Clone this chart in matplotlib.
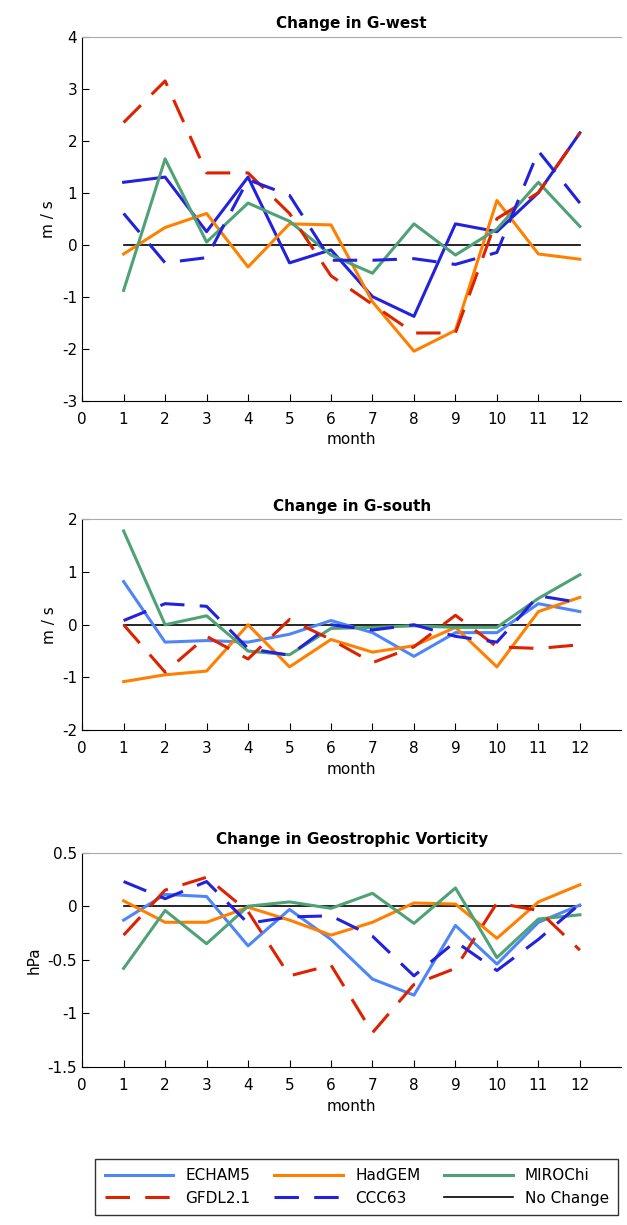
import numpy as np
import matplotlib
matplotlib.use("Agg")
import matplotlib.pyplot as plt

months = list(range(1, 13))

# Change in G-west (m/s)
gw_echam5 = [1.2, 1.3, 0.25, 1.3, -0.35, -0.1, -1.0, -1.38, 0.4, 0.25, 1.0, 2.15]
gw_hadgem = [-0.18, 0.33, 0.6, -0.43, 0.4, 0.38, -1.1, -2.05, -1.65, 0.85, -0.18, -0.28]
gw_mirochi = [-0.88, 1.65, 0.05, 0.8, 0.45, -0.2, -0.55, 0.4, -0.2, 0.3, 1.2, 0.35]
gw_gfdl = [2.35, 3.15, 1.38, 1.38, 0.6, -0.6, -1.15, -1.7, -1.7, 0.5, 1.0, 2.15]
gw_ccc63 = [0.6, -0.35, -0.25, 1.25, 0.95, -0.3, -0.3, -0.27, -0.38, -0.15, 1.8, 0.8]

# Change in G-south (m/s)
gs_echam5 = [0.82, -0.33, -0.3, -0.33, -0.18, 0.08, -0.15, -0.6, -0.15, -0.15, 0.4, 0.25]
gs_hadgem = [-1.08, -0.95, -0.88, 0.0, -0.8, -0.28, -0.52, -0.4, -0.05, -0.8, 0.25, 0.52]
gs_mirochi = [1.78, 0.0, 0.17, -0.5, -0.57, -0.07, -0.05, -0.02, -0.05, -0.05, 0.5, 0.95]
gs_gfdl = [0.0, -0.9, -0.22, -0.65, 0.1, -0.28, -0.72, -0.42, 0.18, -0.42, -0.45, -0.38]
gs_ccc63 = [0.08, 0.4, 0.35, -0.45, -0.58, 0.0, -0.1, 0.0, -0.22, -0.33, 0.55, 0.42]

# Change in geostrophic vorticity (hPa)
gv_echam5 = [-0.13, 0.11, 0.09, -0.37, -0.03, -0.31, -0.68, -0.83, -0.18, -0.54, -0.15, 0.01]
gv_hadgem = [0.05, -0.15, -0.15, -0.01, -0.13, -0.27, -0.15, 0.03, 0.02, -0.3, 0.04, 0.2]
gv_mirochi = [-0.58, -0.04, -0.35, 0.0, 0.04, -0.02, 0.12, -0.16, 0.17, -0.48, -0.12, -0.08]
gv_gfdl = [-0.27, 0.15, 0.27, -0.05, -0.65, -0.55, -1.18, -0.73, -0.58, 0.03, -0.04, -0.41]
gv_ccc63 = [0.23, 0.07, 0.23, -0.16, -0.1, -0.09, -0.28, -0.65, -0.33, -0.6, -0.31, 0.02]

c_echam = "#4f86f7"
c_had = "#ff8000"
c_miro = "#4fa176"
c_gfdl = "#dd2200"
c_ccc = "#2222dd"

plt.rcParams['font.family'] = ['DejaVu Sans']
fig = plt.figure(figsize=(6.27, 12.25), dpi=100)

panels = [
    ("Change in G-west", [0.131, 0.673, 0.86, 0.297], (-3, 4), range(-3, 5), "m / s",
     gw_echam5, gw_hadgem, gw_mirochi, gw_gfdl, gw_ccc63, c_ccc),
    ("Change in G-south", [0.131, 0.404, 0.86, 0.172], (-2, 2), range(-2, 3), "m / s",
     gs_echam5, gs_hadgem, gs_mirochi, gs_gfdl, gs_ccc63, c_echam),
    ("Change in Geostrophic Vorticity", [0.131, 0.129, 0.86, 0.175], (-1.5, 0.5),
     [-1.5, -1, -0.5, 0, 0.5], "hPa",
     gv_echam5, gv_hadgem, gv_mirochi, gv_gfdl, gv_ccc63, c_echam),
]

handles = None
for title, pos, ylim, yt, ylab, e, h, m, g, c, ec in panels:
    ax = fig.add_axes(pos)
    l0, = ax.plot([1, 12], [0, 0], color="black", lw=1.2)
    l1, = ax.plot(months, e, color=ec, lw=2.2)
    l2, = ax.plot(months, h, color=c_had, lw=2.2)
    l3, = ax.plot(months, m, color=c_miro, lw=2.2)
    l4, = ax.plot(months, g, color=c_gfdl, lw=2.2, dashes=(8, 5))
    l5, = ax.plot(months, c, color=c_ccc, lw=2.2, dashes=(8, 5))
    if handles is None:
        handles = [l1, l2, l3, l4, l5, l0]
    ax.set_xlim(0, 13)
    ax.set_xticks(range(0, 13))
    ax.set_ylim(*ylim)
    ax.set_yticks(list(yt))
    ax.set_yticklabels([("%g" % v) for v in yt])
    ax.tick_params(labelsize=11, direction="in", length=5)
    ax.tick_params(axis="x", pad=8)
    ax.set_xlabel("month", fontsize=11)
    ax.set_ylabel(ylab, fontsize=11)
    ax.set_title(title, fontsize=11, fontweight="bold")
    for s in ["top", "right"]:
        ax.spines[s].set_color("#aaaaaa")
    ax.spines["right"].set_visible(False)

names = ["ECHAM5", "HadGEM", "MIROChi", "GFDL2.1", "CCC63", "No Change"]
h = handles
h[0] = plt.Line2D([], [], color=c_echam, lw=2.2)
order = [h[0], h[3], h[1], h[4], h[2], h[5]]
onames = [names[0], names[3], names[1], names[4], names[2], names[5]]
fig.legend(order, onames, ncol=3, loc="lower left", bbox_to_anchor=(0.140, 0.002, 0.858, 0.055),
           mode="expand", fontsize=11, frameon=True, fancybox=False, edgecolor="black",
           handlelength=4.5, borderpad=0.6, labelspacing=0.5)

fig.savefig("out.png", dpi=100)
